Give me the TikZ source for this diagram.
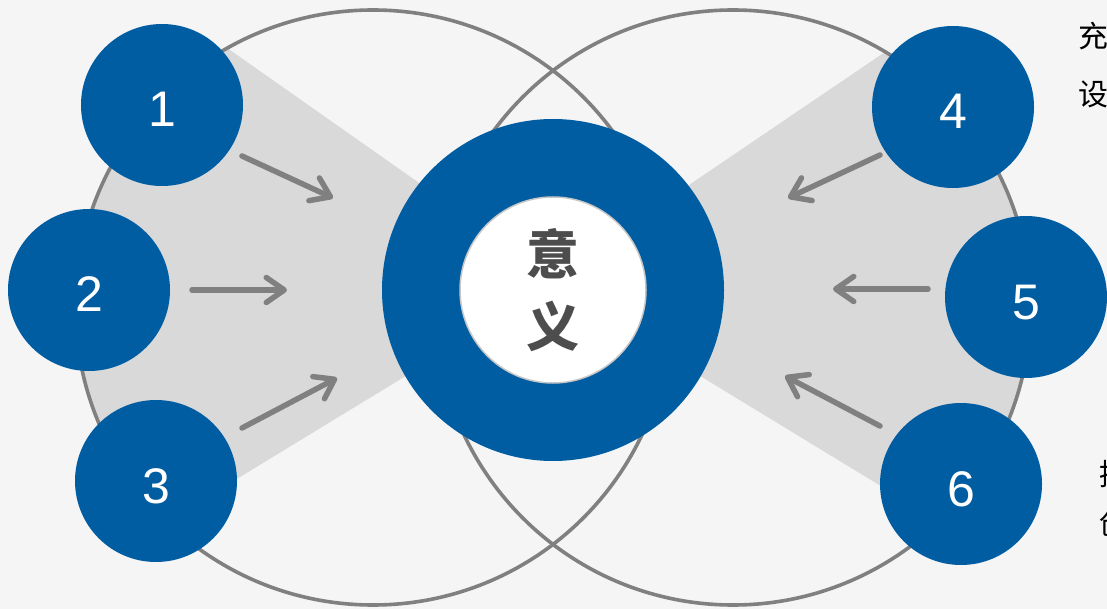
\documentclass[tikz,border=0pt]{standalone}
\usepackage{fontspec}
\newfontfamily\numfont{Liberation Sans}
\newfontfamily\cjkfont{Noto Sans CJK SC}
\usetikzlibrary{arrows.meta}
\definecolor{deepblue}{HTML}{005DA2}
\definecolor{ringgray}{HTML}{808080}
\definecolor{wedgegray}{HTML}{D9D9D9}
\definecolor{pagegray}{HTML}{F5F5F5}
\definecolor{wordgray}{HTML}{4D4D4D}
\tikzset{
  numdot/.style={circle, fill=deepblue, minimum size=162pt, inner sep=0pt, text=white,
    font=\numfont\fontsize{50}{50}\selectfont, text height=44pt, text depth=0pt},
  bigloop/.style={circle, draw=ringgray, line width=3.6pt, minimum size=595pt, inner sep=0pt},
  wedge/.style={fill=wedgegray},
  flow/.style={draw=ringgray, line width=5.5pt, line cap=round,
    -{Straight Barb[length=18pt, width=25pt, line cap=round, line join=round]}},
  sidenote/.style={anchor=west, inner sep=0pt, align=left, text=black},
}
\begin{document}
\begin{tikzpicture}[x=1pt, y=-1pt]
  \useasboundingbox (0,0) rectangle (1107,609);
  \clip (0,0) rectangle (1107,609);
  \fill[pagegray] (0,0) rectangle (1107,609);

  % grey fans behind the arrows
  \begin{scope}
    \clip (373,307.5) circle (297.5pt);
    \fill[wedge] (560,282) -- (-100,-182) -- (-80,672) -- cycle;
  \end{scope}
  \begin{scope}
    \clip (733,307.5) circle (297.5pt);
    \fill[wedge] (546,282) -- (1230,-182) -- (1186,672) -- cycle;
  \end{scope}

  % two large loops
  \node[bigloop] (leftloop) at (373,307.5) {};
  \node[bigloop] (rightloop) at (733,307.5) {};

  % centre
  \node[circle, fill=deepblue, minimum size=342pt, inner sep=0pt] (ring) at (553,290) {};
  \node[circle, fill=white, draw=gray!45, line width=1.5pt, minimum size=186pt, inner sep=0pt,
    text=wordgray, font=\cjkfont\bfseries\fontsize{53}{72}\selectfont, align=center]
    (core) at (ring) {意\\义};

  % arrows
  \foreach \i/\tx/\ty/\hx/\hy in {1/242/156/333/198, 2/192/290/287/290, 3/242/428/337/378,
                                  4/880/155/788/198, 5/928/289/833/289, 6/880/426/785/376} {
    \coordinate (tail-\i) at (\tx,\ty);
    \coordinate (head-\i) at (\hx,\hy);
    \draw[flow] (tail-\i) -- (head-\i);
  }

  % numbered dots
  \foreach \n/\x/\y in {1/162/105, 2/89/290, 3/156/481, 4/953/107, 5/1026/297, 6/961/484}
    \node[numdot] (dot-\n) at (\x,\y) {\n};

  % cut-off notes at the right edge
  \node[sidenote, font=\cjkfont\fontsize{30}{58}\selectfont] (note-top) at (1078,65) {充\\设};
  \node[sidenote, font=\cjkfont\fontsize{30}{49}\selectfont] (note-bottom) at (1099,499) {提\\创};
\end{tikzpicture}
\end{document}
